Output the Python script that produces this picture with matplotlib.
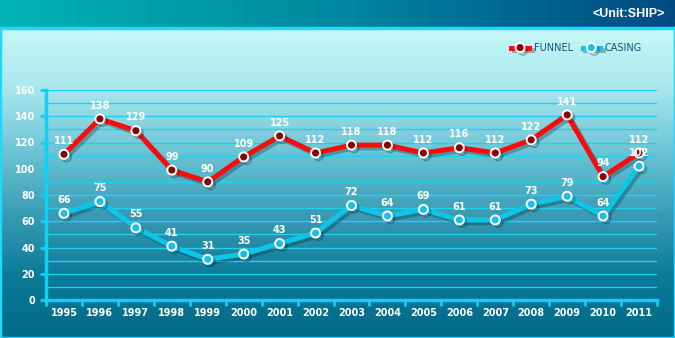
import matplotlib

matplotlib.use("Agg")
import matplotlib.pyplot as plt
import matplotlib.patheffects as pe
import numpy as np
from matplotlib.colors import LinearSegmentedColormap

years = ["1995", "1996", "1997", "1998", "1999", "2000", "2001", "2002", "2003",
         "2004", "2005", "2006", "2007", "2008", "2009", "2010", "2011"]
funnel = [111, 138, 129, 99, 90, 109, 125, 112, 118, 118, 112, 116, 112, 122, 141, 94, 112]
casing = [66, 75, 55, 41, 31, 35, 43, 51, 72, 64, 69, 61, 61, 73, 79, 64, 102]
y_ticks = [0, 20, 40, 60, 80, 100, 120, 140, 160]

W, H = 675, 338
fig = plt.figure(figsize=(W / 100, H / 100), dpi=100)

# header band (horizontal gradient)
hdr = fig.add_axes([0, 1 - 28 / H, 1, 28 / H])
hdr_cmap = LinearSegmentedColormap.from_list("hdr", ["#00b4b4", "#0088a0", "#004a82"])
hdr.imshow(np.linspace(0, 1, 256)[None, :], aspect="auto", cmap=hdr_cmap, extent=[0, 1, 0, 1])
hdr.set_axis_off()
hdr.text(0.985, 0.5, "<Unit:SHIP>", color="white", fontsize=9, fontweight="bold",
         ha="right", va="center", family="Liberation Sans")

# panel (vertical gradient)
pnl = fig.add_axes([0, 0, 1, 1 - 28 / H])
pnl_cmap = LinearSegmentedColormap.from_list(
    "pnl", ["#c8f8f6", "#a8e6ec", "#6cc4d4", "#3a9cb4", "#0c7a98", "#006a88"])
pnl.imshow(np.linspace(0, 1, 256)[:, None], aspect="auto", cmap=pnl_cmap, extent=[0, 1, 0, 1])
pnl.set_xticks([])
pnl.set_yticks([])
for s in pnl.spines.values():
    s.set_color("#20d8f8")
    s.set_linewidth(2.5)

ax = fig.add_axes([46 / W, 38 / H, 611 / W, 210 / H])
ax.patch.set_alpha(0)
x = np.arange(len(years))

for v in range(10, 161, 10):
    ax.axhline(v, color="#20d0f2", linewidth=1.0, zorder=1)

shadow = [pe.SimpleLineShadow(offset=(2, -2), shadow_color="#002838", alpha=0.3), pe.Normal()]
ax.plot(x, casing, color="#10c4e8", linewidth=3.6, marker="o", markersize=6.5,
        markerfacecolor="#18c0e8", markeredgecolor="white", markeredgewidth=1.4,
        zorder=3, path_effects=shadow, label="CASING", clip_on=False)
ax.plot(x, funnel, color="#ff0a0a", linewidth=3.6, marker="o", markersize=6.5,
        markerfacecolor="#8a0000", markeredgecolor="white", markeredgewidth=1.4,
        zorder=4, path_effects=shadow, label="FUNNEL", clip_on=False)

for xi, v in zip(x, funnel):
    ax.annotate(str(v), (xi, v), xytext=(0, 6), textcoords="offset points", ha="center",
                va="bottom", color="white", fontsize=7, fontweight="bold", zorder=6)
for xi, v in zip(x, casing):
    ax.annotate(str(v), (xi, v), xytext=(0, 6), textcoords="offset points", ha="center",
                va="bottom", color="white", fontsize=7, fontweight="bold", zorder=6)

ax.set_xlim(-0.5, len(years) - 0.5)
ax.set_ylim(0, 160)
ax.set_yticks(y_ticks)
ax.set_yticklabels([str(t) for t in y_ticks], color="white", fontsize=7, fontweight="bold")
ax.set_xticks(x)
ax.set_xticklabels(years, color="white", fontsize=7, fontweight="bold")
ax.set_xticks(np.arange(-0.5, len(years), 1.0), minor=True)
ax.tick_params(axis="x", which="major", length=0, pad=6)
ax.tick_params(axis="x", which="minor", length=4, width=2, color="#10d0f8", direction="out")
ax.tick_params(axis="y", length=4, width=2, color="#10d0f8", pad=4)
for side in ["top", "right"]:
    ax.spines[side].set_visible(False)
for side in ["left", "bottom"]:
    ax.spines[side].set_color("#10d0f8")
    ax.spines[side].set_linewidth(2.5)

leg = ax.legend(handles=ax.get_lines()[::-1][:2], loc="center right",
                bbox_to_anchor=(0.99, 1.2), ncol=2, frameon=False, fontsize=7,
                handlelength=1.8, columnspacing=1.0, handletextpad=0.5)
for t in leg.get_texts():
    t.set_color("#1a4f80")

fig.savefig("out.png", dpi=100)
